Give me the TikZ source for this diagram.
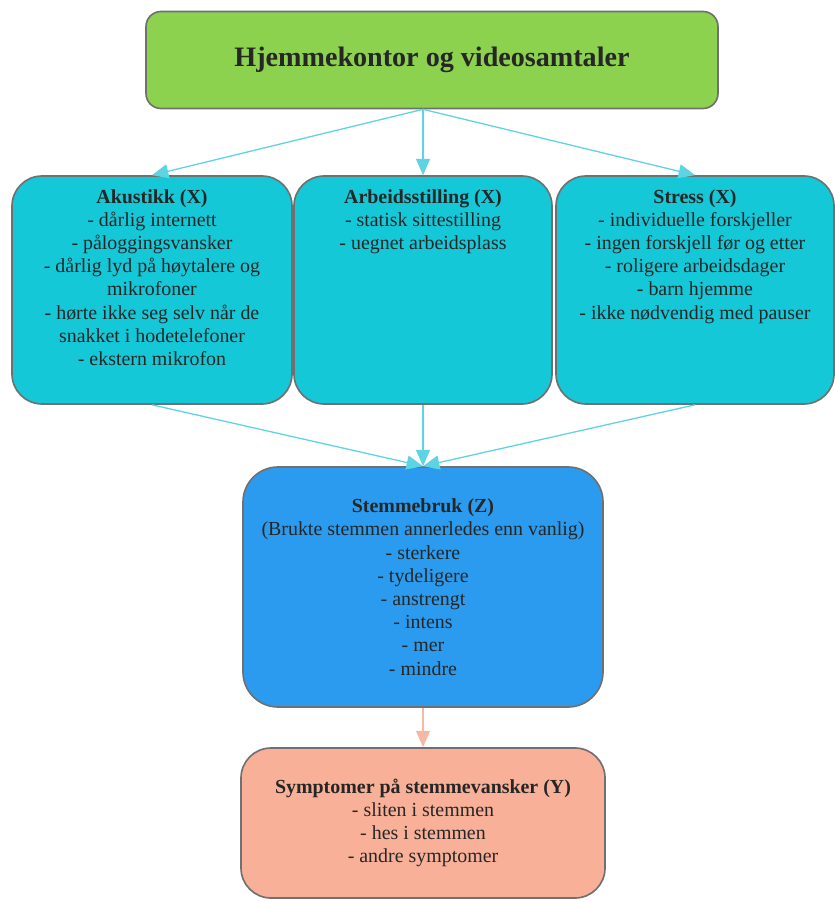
\documentclass[tikz,border=0pt]{standalone}
\usepackage{fontspec}
\setmainfont{LiberationSerif}[Extension=.ttf, UprightFont=*-Regular, BoldFont=*-Bold,
  ItalicFont=*-Italic, BoldItalicFont=*-BoldItalic]
\usetikzlibrary{arrows.meta}

\definecolor{topgreen}{HTML}{8CD24E}
\definecolor{factorcyan}{HTML}{14C8D8}
\definecolor{voiceblue}{HTML}{2A9BEE}
\definecolor{symptomsalmon}{HTML}{F8B098}
\definecolor{linkcyan}{HTML}{5ED3E2}
\definecolor{linksalmon}{HTML}{F5B9A3}
\definecolor{boxedge}{HTML}{707070}

\tikzset{
  box/.style={draw=boxedge, line width=1.4pt, align=center, inner sep=0pt, text=black!85,
    font=\fontsize{17}{19.8}\selectfont},
  factor/.style={box, fill=factorcyan, rounded corners=0.9cm},
  link/.style={draw=linkcyan, line width=1.1pt, -{Triangle[length=14pt, width=12pt]}},
}

\begin{document}
\begin{tikzpicture}
    \useasboundingbox (0, 0) rectangle (25.02, -27.06);

    % Top box
    \node[box, fill=topgreen, rounded corners=0.45cm, minimum width=17.16cm, minimum height=2.91cm,
      font=\fontsize{24}{27}\selectfont\bfseries] (home) at (12.96, -1.8) {Hjemmekontor og videosamtaler};

    % Factor row
    \node[factor, minimum width=8.4cm, minimum height=6.84cm] (acoustic) at (4.56, -8.7)
      {\parbox[c][6.84cm][t]{8.2cm}{\centering\vspace*{0.4cm}\textbf{Akustikk (X)}\\
        - dårlig internett\\
        - påloggingsvansker\\
        - dårlig lyd på høytalere og\\ mikrofoner\\
        - hørte ikke seg selv når de\\ snakket i hodetelefoner\\
        - ekstern mikrofon}};
    \node[factor, minimum width=7.74cm, minimum height=6.84cm] (posture) at (12.69, -8.7)
      {\parbox[c][6.84cm][t]{7.6cm}{\centering\vspace*{0.4cm}\textbf{Arbeidsstilling (X)}\\
        - statisk sittestilling\\
        - uegnet arbeidsplass}};
    \node[factor, minimum width=8.34cm, minimum height=6.84cm] (stress) at (20.85, -8.7)
      {\parbox[c][6.84cm][t]{8.2cm}{\centering\vspace*{0.4cm}\textbf{Stress (X)}\\
        - individuelle forskjeller\\
        - ingen forskjell før og etter\\
        - roligere arbeidsdager\\
        - barn hjemme\\
        - ikke nødvendig med pauser}};

    % Voice use
    \node[box, fill=voiceblue, rounded corners=1.05cm, minimum width=10.8cm, minimum height=7.2cm] (voice) at (12.69, -17.61)
      {\textbf{Stemmebruk (Z)}\\
        (Brukte stemmen annerledes enn vanlig)\\
        - sterkere\\
        - tydeligere\\
        - anstrengt\\
        - intens\\
        - mer\\
        - mindre};

    % Symptoms
    \node[box, fill=symptomsalmon, rounded corners=0.9cm, minimum width=10.92cm, minimum height=4.5cm] (symptoms) at (12.69, -24.69)
      {\textbf{Symptomer på stemmevansker (Y)}\\
        - sliten i stemmen\\
        - hes i stemmen\\
        - andre symptomer};

    % Connectors
    \coordinate (fork) at (home.south -| posture.north);
    \draw[link] (fork) -- (acoustic.north);
    \draw[link] (fork) -- (posture.north);
    \draw[link] (fork) -- (stress.north);
    \draw[link] (acoustic.south) -- (voice.north);
    \draw[link] (posture.south) -- (voice.north);
    \draw[link] (stress.south) -- (voice.north);
    \draw[link, draw=linksalmon] (voice.south) -- (symptoms.north);
\end{tikzpicture}
\end{document}
